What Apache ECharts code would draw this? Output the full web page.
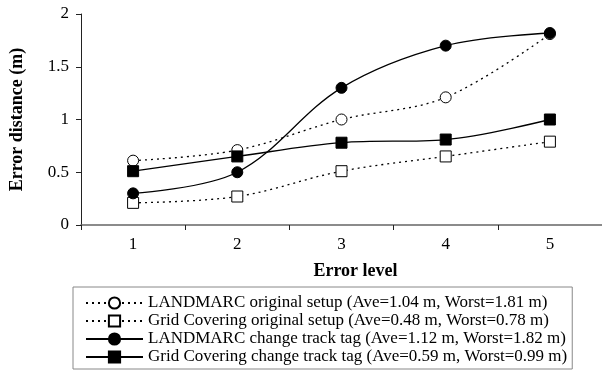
<!DOCTYPE html>
<html>
<head>
<meta charset="utf-8">
<script src="https://cdn.jsdelivr.net/npm/echarts@6/dist/echarts.min.js"></script>
<style>html,body{margin:0;padding:0;background:#fff}#c{width:602px;height:372px}</style>
</head>
<body>
<div id="c"></div>
<script>
var categories = ['1', '2', '3', '4', '5'];
var yTicks = [0, 0.5, 1, 1.5, 2];
var seriesNames = [
  'LANDMARC original setup (Ave=1.04 m, Worst=1.81 m)',
  'Grid Covering original setup (Ave=0.48 m, Worst=0.78 m)',
  'LANDMARC change track tag (Ave=1.12 m, Worst=1.82 m)',
  'Grid Covering change track tag (Ave=0.59 m, Worst=0.99 m)'
];
var landmarcOriginal = [0.61, 0.71, 1.0, 1.21, 1.81];
var gridOriginal = [0.21, 0.27, 0.51, 0.65, 0.79];
var landmarcChange = [0.30, 0.50, 1.30, 1.70, 1.82];
var gridChange = [0.51, 0.65, 0.78, 0.81, 1.0];

var FONT = 'Liberation Serif';
function mk(name, data, symbol, filled, dotted, size) {
  return {
    name: name, type: 'line', data: data, smooth: 0.35,
    symbol: symbol, symbolSize: size, showAllSymbol: true,
    lineStyle: { color: '#000', width: 1.3, type: dotted ? [2, 4] : 'solid' },
    itemStyle: { color: filled ? '#000' : '#fff', borderColor: '#000', borderWidth: 1 },
    emphasis: { disabled: true }
  };
}
var chart = echarts.init(document.getElementById('c'), null, { renderer: 'canvas' });
chart.setOption({
  animation: false,
  backgroundColor: '#fff',
  textStyle: { fontFamily: FONT, color: '#000' },
  grid: { left: 73, top: 14, width: 535, height: 211, containLabel: false },
  xAxis: {
    type: 'category', data: categories, boundaryGap: true,
    name: 'Error level', nameLocation: 'middle', nameGap: 37,
    nameTextStyle: { fontFamily: FONT, fontWeight: 'bold', fontSize: 18, color: '#000', padding: [0, 0, 0, 28] },
    axisLine: { lineStyle: { color: '#666', width: 1.6 } },
    axisTick: { show: true, inside: false, length: 5, lineStyle: { color: '#222' } },
    axisLabel: { fontFamily: FONT, fontSize: 17, color: '#000', margin: 11 },
    splitLine: { show: false }
  },
  yAxis: {
    type: 'value', min: yTicks[0], max: yTicks[yTicks.length - 1], interval: 0.5,
    name: 'Error distance (m)', nameLocation: 'middle', nameGap: 55,
    nameTextStyle: { fontFamily: FONT, fontWeight: 'bold', fontSize: 18, color: '#000' },
    axisLine: { show: true, lineStyle: { color: '#222', width: 1 } },
    axisTick: { show: true, inside: false, length: 5, lineStyle: { color: '#222' } },
    axisLabel: { fontFamily: FONT, fontSize: 17, color: '#000', margin: 12 },
    splitLine: { show: false }
  },
  legend: {
    orient: 'vertical', left: 73, top: 287, height: 72,
    itemWidth: 57, itemHeight: 14, itemGap: 0,
    padding: [7, 5, 3, 12],
    borderColor: '#888', borderWidth: 1,
    textStyle: { fontFamily: FONT, fontSize: 17, lineHeight: 18, color: '#000' },
    data: seriesNames
  },
  series: [
    mk(seriesNames[0], landmarcOriginal, 'circle', false, true, 11),
    mk(seriesNames[1], gridOriginal, 'rect', false, true, 11),
    mk(seriesNames[2], landmarcChange, 'circle', true, false, 11),
    mk(seriesNames[3], gridChange, 'rect', true, false, 11)
  ]
});
</script>
</body>
</html>
